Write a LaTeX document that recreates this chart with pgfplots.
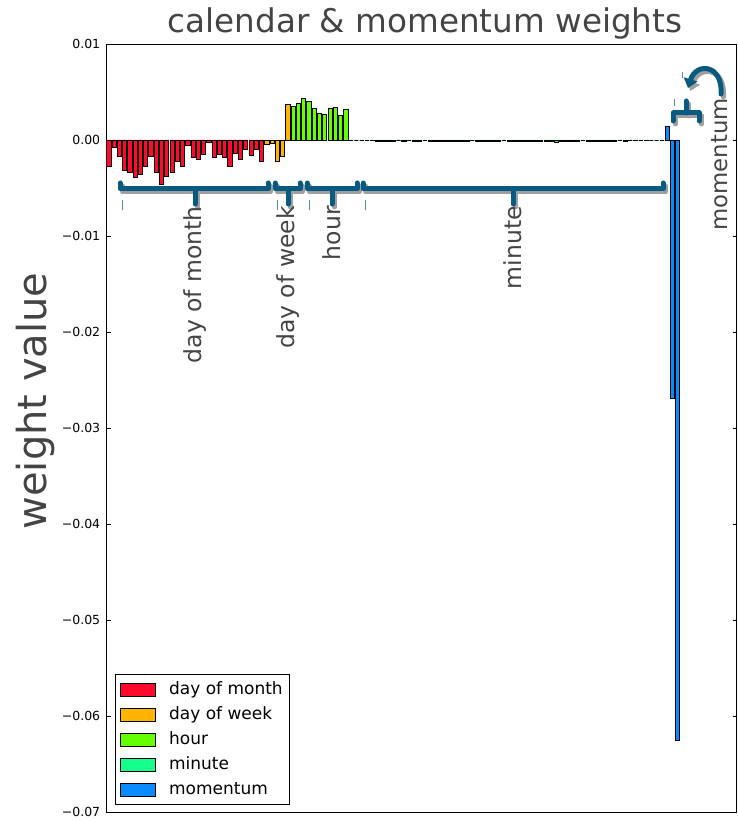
\documentclass[border=0pt]{standalone}
\usepackage{fontspec}
\setmainfont{DejaVu Sans}
\usepackage{pgfplots}
\pgfplotsset{compat=1.18}
\usetikzlibrary{arrows.meta}
\definecolor{cdom}{RGB}{255,10,45}
\definecolor{cdow}{RGB}{255,180,0}
\definecolor{chour}{RGB}{100,255,0}
\definecolor{cmin}{RGB}{20,255,140}
\definecolor{cmom}{RGB}{10,140,255}
\definecolor{bracecol}{RGB}{8,90,128}
\definecolor{txtgray}{RGB}{68,68,68}
\pgfplotsset{
  mybar/.style={ybar, bar width=0.8, bar shift=0pt, draw=black, line width=0.8pt, fill=#1,
    legend image code/.code={\draw[fill=#1, draw=black, line width=0.8pt] (3pt,-6.5pt) rectangle (38pt,6.5pt); \path[draw=none, fill=none] (0pt,0pt) -- (47pt,0pt);}},
}
\tikzset{
  brc/.style={line width=5pt, draw=bracecol, line cap=round, line join=round},
  brs/.style={line width=5pt, draw=gray!75, line cap=round, line join=round},
}
\newcommand\calbrace[3]{%
  \draw[brs, shift={(2.5,3)}] (#1,183) -- (#1,189) -- (#2,189) -- (#2,183) (#3,189) -- (#3,204);
  \draw[brc] (#1,183) -- (#1,189) -- (#2,189) -- (#2,183) (#3,189) -- (#3,204);
  \draw[bracecol!70, line width=0.6pt] (#1+2,200) -- (#1+2,210);
}
\begin{document}
\begin{tikzpicture}
\begin{axis}[name=ax, scale only axis, width=630pt, height=768pt,
  xmin=0, xmax=119.6, ymin=-0.07, ymax=0.01,
  xtick=\empty,
  ytick={-0.07,-0.06,-0.05,-0.04,-0.03,-0.02,-0.01,0,0.01},
  yticklabels={−0.07,−0.06,−0.05,−0.04,−0.03,−0.02,−0.01,0.00,0.01},
  scaled y ticks=false,
  yticklabel pos=left, ytick pos=both,
  tick align=inside, major tick length=4pt,
  tick style={line width=0.8pt, black},
  axis line style={line width=0.8pt},
  yticklabel style={font=\fontsize{12.5}{15}\selectfont, xshift=-3pt},
  legend style={at={(0,0)}, anchor=south west, xshift=8pt, yshift=7pt,
    draw=black, line width=0.8pt, inner sep=2.5pt,
    font=\fontsize{17}{20}\selectfont,
    nodes={inner xsep=4.5pt, inner ysep=4.5pt, text height=12.5pt, text depth=3.5pt},
    cells={anchor=west}},
]
\addplot[mybar=cdom] coordinates {
(0.4,-0.0028) (1.4,-0.0008) (2.4,-0.0017) (3.4,-0.0032) (4.4,-0.0034)
(5.4,-0.0039) (6.4,-0.0036) (7.4,-0.0028) (8.4,-0.0017) (9.4,-0.0034)
(10.4,-0.0046) (11.4,-0.0038) (12.4,-0.0034) (13.4,-0.0022) (14.4,-0.0028)
(15.4,-0.0006) (16.4,-0.0018) (17.4,-0.0020) (18.4,-0.0015) (19.4,-0.0002)
(20.4,-0.0018) (21.4,-0.0015) (22.4,-0.0018) (23.4,-0.0027) (24.4,-0.0014)
(25.4,-0.0020) (26.4,-0.0010) (27.4,-0.0016) (28.4,-0.0010) (29.4,-0.0022)
};
\addplot[mybar=cdow] coordinates {
(30.4,-0.0005) (31.4,-0.0004) (32.4,-0.0022) (33.4,-0.0017) (34.4,0.0037)
};
\addplot[mybar=chour] coordinates {
(35.4,0.0035) (36.4,0.0038) (37.4,0.0043) (38.4,0.0040) (39.4,0.0033)
(40.4,0.0028) (41.4,0.0027) (42.4,0.0033) (43.4,0.0034) (44.4,0.0026)
(45.4,0.0032)
};
\addplot[mybar=cmin] coordinates {
(46.4,0) (47.4,0) (48.4,0) (49.4,0) (50.4,-0.00005)
(51.4,-0.0001) (52.4,-0.0001) (53.4,-0.0001) (54.4,-0.0001) (55.4,0)
(56.4,-0.0001) (57.4,0) (58.4,-0.0001) (59.4,-0.0001) (60.4,0)
(61.4,-0.0001) (62.4,-0.0001) (63.4,-0.0001) (64.4,-0.0001) (65.4,-0.0001)
(66.4,-0.0001) (67.4,-0.0001) (68.4,-0.0001) (69.4,0) (70.4,-0.0001)
(71.4,-0.0001) (72.4,-0.0001) (73.4,-0.0001) (74.4,-0.0001) (75.4,0)
(76.4,-0.0001) (77.4,-0.0001) (78.4,-0.0001) (79.4,-0.0001) (80.4,-0.0001)
(81.4,-0.0001) (82.4,-0.0001) (83.4,-0.0001) (84.4,-0.0001) (85.4,-0.0002)
(86.4,-0.0001) (87.4,-0.0001) (88.4,-0.0001) (89.4,-0.0001) (90.4,0)
(91.4,-0.0001) (92.4,-0.0001) (93.4,-0.0001) (94.4,-0.0001) (95.4,-0.0001)
(96.4,-0.0001) (97.4,0) (98.4,-0.0001) (99.4,0) (100.4,-0.00005)
(101.4,0) (102.4,-0.00005) (103.4,0) (104.4,0) (105.4,0)
};
\addplot[mybar=cmom] coordinates {
(106.4,0.0014) (107.4,-0.0269) (108.4,-0.0625)
};
\legend{day of month, day of week, hour, minute, momentum}
\end{axis}
\begin{scope}[shift={(ax.north west)}, xshift=-106.7pt, yshift=44pt, x=1pt, y=-1pt]
  % title
  \node[anchor=base, inner sep=0pt, text=txtgray, font=\fontsize{32.6}{38}\selectfont] at (425,33) {calendar \& momentum weights};
  % y label
  \node[anchor=base, rotate=90, inner sep=0pt, text=txtgray, font=\fontsize{40}{46}\selectfont] at (47,401) {weight value};
  % braces
  \calbrace{120}{268}{195}
  \calbrace{275}{300}{288}
  \calbrace{307}{357}{332}
  \calbrace{363}{663}{513}
  % momentum brace (inverted)
  \draw[brs, shift={(2.5,3)}] (673,121) -- (673,113) -- (699,113) -- (699,121) (686,113) -- (686,101);
  \draw[brc] (673,121) -- (673,113) -- (699,113) -- (699,121) (686,113) -- (686,101);
  \draw[bracecol!70, line width=0.6pt] (674,99) -- (674,106);
  \draw[bracecol!70, line width=0.6pt] (682,72) -- (682,78);
  % curved arrow
  \draw[brs, shift={(2.5,3)}, -{Triangle[length=9pt,width=14pt]}] (721,94) .. controls (723,64) and (696,62) .. (688,88);
  \draw[brc, -{Triangle[length=9pt,width=14pt]}] (721,94) .. controls (723,64) and (696,62) .. (688,88);
  % labels
  \begin{scope}[every node/.style={anchor=east, rotate=90, inner sep=0pt, text=txtgray, font=\fontsize{23.5}{28}\selectfont}]
    \node at (195,206) {day of month};
    \node at (288,206) {day of week};
    \node at (332,206) {hour};
    \node at (513,206) {minute};
    \node[font=\fontsize{22.8}{27}\selectfont] at (720,98) {momentum};
  \end{scope}
  \pgfresetboundingbox
  \path[use as bounding box] (0,0) rectangle (738,821);
\end{scope}
\end{tikzpicture}
\end{document}
